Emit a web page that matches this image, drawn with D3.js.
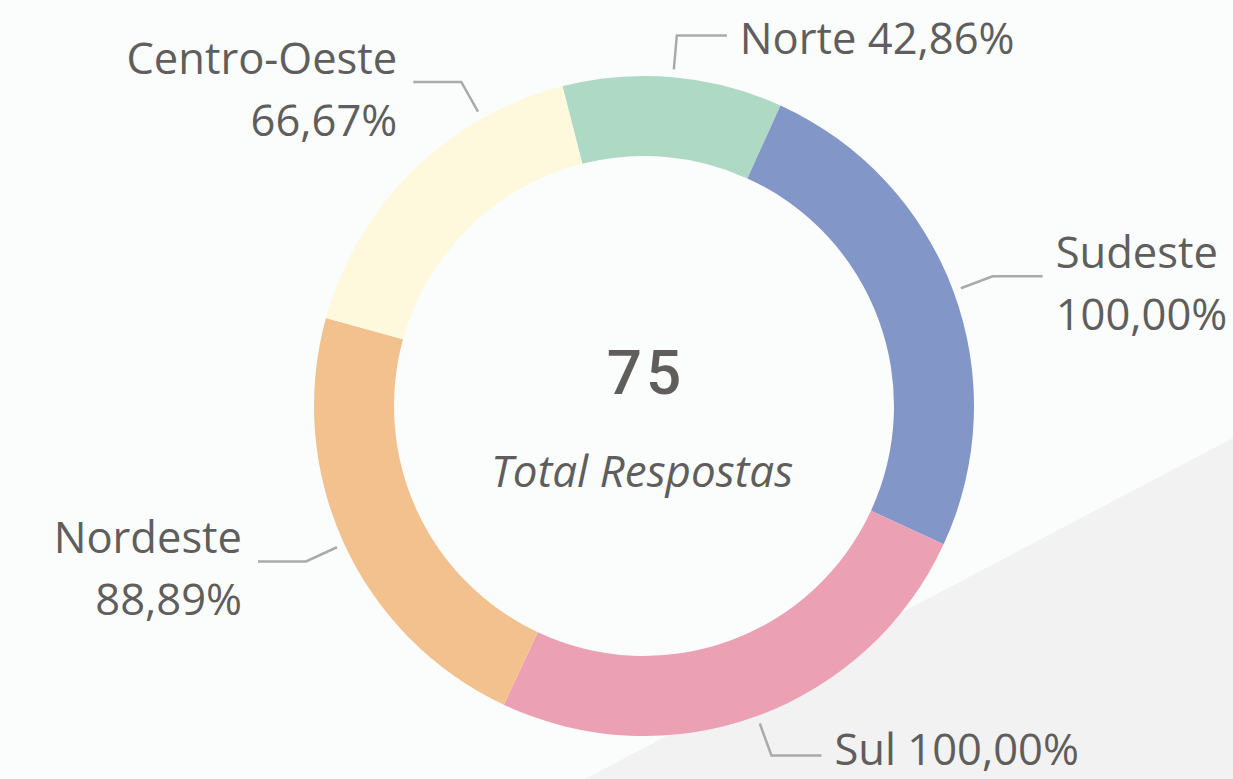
<!DOCTYPE html>
<html>
<head>
<meta charset="utf-8">
<script src="https://cdn.jsdelivr.net/npm/d3@7"></script>
<style>
  html, body { margin: 0; padding: 0; background: #fbfcfc; overflow: hidden; }
  #chart { width: 1233px; height: 779px; }
</style>
</head>
<body>
<div id="chart"></div>
<script>
// data
var regions = ["Norte", "Sudeste", "Sul", "Nordeste", "Centro-Oeste"];
var rates = [42.86, 100.00, 100.00, 88.89, 66.67];
var totalRespostas = 75;
var centerLabel = "Total Respostas";
var colors = ["#aed9c4", "#8296c7", "#eca0b4", "#f2c18e", "#fef9dc"];

var W = 1233, H = 779;
var cx = 644, cy = 406;
var rOuter = 330, rInner = 250;
var textColor = "#605e5c";
var fmt = function(v){ return v.toFixed(2).replace(".", ",") + "%"; };

var svg = d3.select("#chart").append("svg")
    .attr("width", W)
    .attr("height", H);

// grey triangle in the back
svg.append("path")
    .attr("d", "M" + W + "," + 438 + "L" + W + "," + H + "L" + 585 + "," + H + "Z")
    .style("fill", "#f2f2f2");

var g = svg.append("g").attr("transform", "translate(" + cx + "," + cy + ")");

var start = -14.3 * Math.PI / 180;
var pie = d3.pie().sort(null).value(function(d){ return d.v; })
    .startAngle(start).endAngle(start + 2 * Math.PI);

var data = regions.map(function(r, i){ return {name: r, v: rates[i], c: colors[i]}; });
var arcs = pie(data);

var arc = d3.arc().innerRadius(rInner).outerRadius(rOuter);

g.selectAll("path.slice").data(arcs).enter().append("path")
    .attr("class", "slice")
    .attr("d", arc)
    .style("fill", function(d){ return d.data.c; })
    .style("stroke", "none");

// leader lines + labels
// label layout tweaks (power bi nudges the Centro-Oeste label to dodge)
var nudge = {"Centro-Oeste": 15 * Math.PI / 180};
var twoLines = {"Sudeste": true, "Nordeste": true, "Centro-Oeste": true};

arcs.forEach(function(d){
    var a = (d.startAngle + d.endAngle) / 2 + (nudge[d.data.name] || 0);
    var p0 = [Math.sin(a) * (rOuter + 8), -Math.cos(a) * (rOuter + 8)];
    var p1 = [Math.sin(a) * (rOuter + 42), -Math.cos(a) * (rOuter + 42)];
    var right = Math.sin(a) >= 0;
    var p2 = [p1[0] + (right ? 50 : -48), p1[1]];
    g.append("polyline")
        .attr("points", [p0, p1, p2].map(function(p){ return p.join(","); }).join(" "))
        .style("fill", "none")
        .style("stroke", "#aaaaaa")
        .style("stroke-width", 2.5);

    var tx = p2[0] + (right ? 13 : -16);
    var t = g.append("text")
        .attr("text-anchor", right ? "start" : "end")
        .style("font-family", "'Open Sans', 'Noto Sans', sans-serif")
        .style("font-size", "43.5px")
        .style("fill", textColor);
    if (twoLines[d.data.name]) {
        t.append("tspan").attr("x", tx).attr("y", p2[1] - 8).text(d.data.name);
        t.append("tspan").attr("x", tx).attr("y", p2[1] + 54).text(fmt(d.data.v));
    } else {
        t.append("tspan").attr("x", tx).attr("y", p2[1] + (p2[1] > 0 ? 10 : 19)).text(d.data.name + " " + fmt(d.data.v));
    }
});

// center
g.append("text")
    .attr("x", 2).attr("y", -12)
    .attr("text-anchor", "middle")
    .style("font-family", "Roboto, sans-serif")
    .style("font-weight", 500)
    .style("font-size", "62px")
    .style("letter-spacing", "4px")
    .style("fill", textColor)
    .text(totalRespostas);

g.append("text")
    .attr("x", -2).attr("y", 81)
    .attr("text-anchor", "middle")
    .style("font-family", "'Open Sans', sans-serif")
    .style("font-style", "italic")
    .style("font-size", "44px")
    .style("fill", textColor)
    .text(centerLabel);
</script>
</body>
</html>
